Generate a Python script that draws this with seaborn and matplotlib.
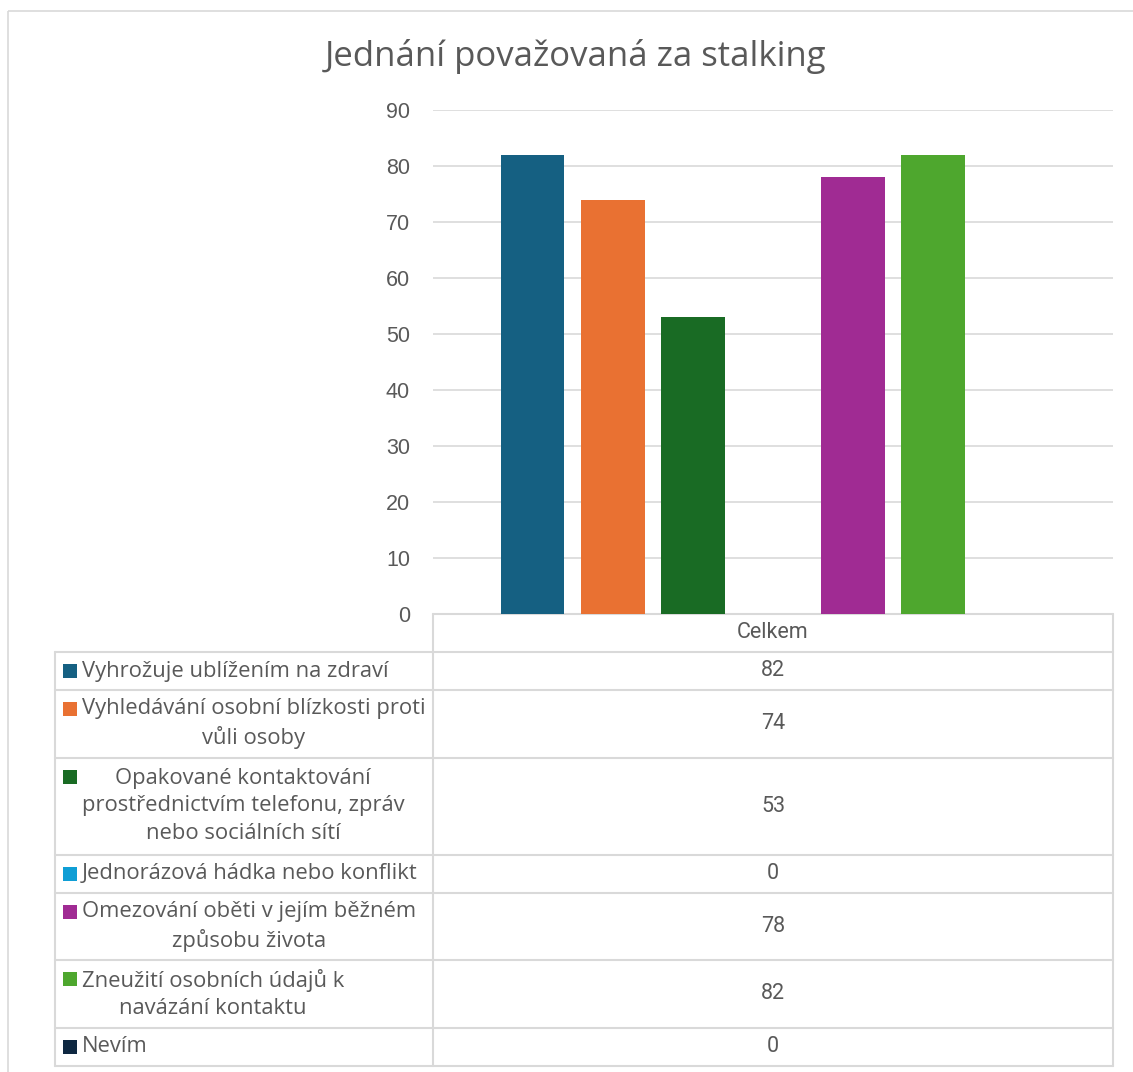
import matplotlib
matplotlib.use("Agg")
import matplotlib.pyplot as plt
from matplotlib.patches import Rectangle
import seaborn as sns
import pandas as pd

# chart data
title = "Jednání považovaná za stalking"
column_label = "Celkem"
categories = [
    "Vyhrožuje ublížením na zdraví",
    "Vyhledávání osobní blízkosti proti\nvůli osoby",
    "Opakované kontaktování\nprostřednictvím telefonu, zpráv\nnebo sociálních sítí",
    "Jednorázová hádka nebo konflikt",
    "Omezování oběti v jejím běžném\nzpůsobu života",
    "Zneužití osobních údajů k\nnavázání kontaktu",
    "Nevím",
]
values = [82, 74, 53, 0, 78, 82, 0]
colors = ["#156082", "#E97132", "#196B24", "#0F9ED5", "#A02B93", "#4EA72E", "#0E2841"]
y_ticks = list(range(0, 91, 10))

TEXT = "#595959"
LINE = "#D9D9D9"
W, H = 1133, 1072
NUM_FONT = ["Liberation Sans Narrow", "Roboto", "DejaVu Sans"]

sns.set_theme(style="white")
plt.rcParams["font.family"] = ["Open Sans", "DejaVu Sans"]

df = pd.DataFrame({
    "Kategorie": column_label,
    "Jednání": categories,
    "Počet": values,
})

fig = plt.figure(figsize=(W / 100, H / 100), dpi=100)

# background / table layer in pixel coordinates
bg = fig.add_axes([0, 0, 1, 1])
bg.set_xlim(0, W)
bg.set_ylim(H, 0)
bg.axis("off")
bg.add_patch(Rectangle((8, 11), W + 5, H, fill=False, edgecolor=LINE, lw=1.2))

# plot area
ax_l, ax_r, ax_t, ax_b = 433, 1113, 110, 614
ax = fig.add_axes([ax_l / W, 1 - ax_b / H, (ax_r - ax_l) / W, (ax_b - ax_t) / H])
sns.barplot(data=df, x="Kategorie", y="Počet", hue="Jednání", palette=colors,
            width=0.824, gap=0.21, saturation=1, legend=False, ax=ax,
            linewidth=0, zorder=3)
ax.set_xlim(-0.5, 0.5)
ax.set_ylim(0, 90)
ax.set_yticks(y_ticks)
ax.set_yticklabels([str(t) for t in y_ticks], fontsize=15.5, color=TEXT,
                   family=["Liberation Sans", "DejaVu Sans"])
ax.tick_params(axis="y", length=0, pad=16.5)
ax.set_xticks([])
ax.set_xlabel("")
ax.set_ylabel("")
ax.grid(axis="y", color=LINE, lw=1.2, zorder=0)
ax.set_axisbelow(True)
for s in ax.spines.values():
    s.set_visible(False)
ax.patch.set_alpha(0)

fig.text(576 / W, 1 - 56 / H, title, ha="center", va="center",
         fontsize=25, color=TEXT)

# data table below the plot
header_top, header_bot = 614, 652
left_x, value_x = 55, 773
row_tops = []
y = header_bot
for lab in categories:
    n = lab.count("\n") + 1
    row_tops.append(y)
    y += 38 + 29.5 * (n - 1)
table_bot = y

bg.plot([ax_l, ax_r], [header_top, header_top], color=LINE, lw=1.5)
bg.plot([ax_l, ax_l], [header_top, table_bot], color=LINE, lw=1.5)
bg.plot([ax_r, ax_r], [header_top, table_bot], color=LINE, lw=1.5)
bg.plot([left_x, left_x], [header_bot, table_bot], color=LINE, lw=1.5)
bg.text(value_x, (header_top + header_bot) / 2, column_label, ha="center",
        va="center", fontsize=15.5, color=TEXT, family=NUM_FONT)

bounds = row_tops + [table_bot]
for i, (lab, val, col) in enumerate(zip(categories, values, colors)):
    top, bot = bounds[i], bounds[i + 1]
    mid = (top + bot) / 2
    bg.plot([left_x, ax_r], [top, top], color=LINE, lw=1.5)
    bg.add_patch(Rectangle((63, top + 12), 14, 14, facecolor=col, edgecolor="none"))
    bg.text(82, mid, lab, ha="left", va="center", multialignment="center",
            fontsize=15.8, color=TEXT, linespacing=1.38)
    bg.text(value_x, mid, str(val), ha="center", va="center",
            fontsize=15.5, color=TEXT, family=NUM_FONT)
bg.plot([left_x, ax_r], [table_bot, table_bot], color=LINE, lw=1.5)

fig.savefig("out.png", dpi=100)
